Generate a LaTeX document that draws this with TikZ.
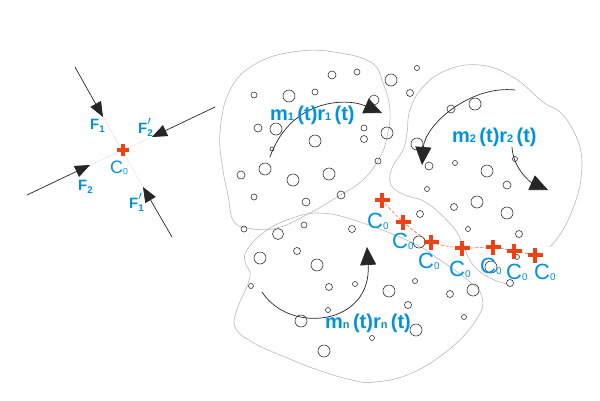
\documentclass[tikz,border=0pt]{standalone}
\usepackage{fontspec}
\setmainfont{Liberation Sans}
\usetikzlibrary{arrows.meta}
\definecolor{cblue}{RGB}{0,146,223}
\definecolor{cred}{RGB}{238,66,20}
\newcommand\sbs[3]{\raisebox{#1}{\scalebox{#2}{#3}}}
\newcommand\prm{\rlap{\raisebox{0.5em}{\scalebox{0.9}{$\prime$}}}}
\tikzset{
 blob/.style={draw=black!28,line width=0.6pt},
 grain/.style={draw=black!80,line width=0.6pt},
 flow/.style={draw=black!85,line width=0.7pt,-{Triangle[length=18pt,width=16pt]}},
 force/.style={draw=black!85,line width=0.7pt,-{Triangle[length=15pt,width=12pt]}},
 ghost/.style={draw=black!18,line width=0.5pt,dash pattern=on 1pt off 1pt},
 lbl/.style={anchor=base west,inner sep=0pt,text=cblue},
 pics/cplus/.style={code={\draw[cred,line cap=butt] (-#1,0)--(#1,0) (0,-#1)--(0,#1);}}
}
\begin{document}
\begin{tikzpicture}[x=1pt,y=-1pt,line join=round,line cap=round]
 \useasboundingbox (0,0) rectangle (600,400);
 % regions
 \draw[blob] plot[smooth cycle,tension=0.7] coordinates {(300,51) (340,53) (372,63) (383,83) (390,110) (387,137) (380,157) (363,180) (337,197) (310,213) (277,228) (247,228) (233,220) (228,195) (223,170) (220,133) (230,90) (257,63)};
 \draw[blob] plot[smooth,tension=0.7] coordinates {(507,284) (490,278) (473,265) (463,245) (453,227) (427,203) (405,195) (391,185) (392,168) (403,150) (407,133) (410,110) (423,87) (447,70) (480,65) (513,77) (543,102) (560,112) (573,130) (581,152) (581,178) (575,203) (563,230) (550,247)};
 \draw[blob] plot[smooth cycle,tension=0.7] coordinates {(247,250) (263,233) (287,220) (320,213) (360,222) (413,243) (440,260) (470,282) (482,297) (478,317) (452,347) (412,373) (375,382) (352,380) (318,370) (285,357) (252,342) (235,327) (238,307) (250,277) (245,262)};
 % grains
 \foreach \x/\y/\r in {332/75/4, 357/72/3, 391/80/6, 254/95/3, 289/96/6, 315/92/3, 374/100/5,
   258/128/4, 276/129/6, 315/141/6, 364/128/3, 364/139/3.5, 387/133/6, 272/149/2, 378/161/3,
   265/169/6, 241/175/4, 329/174/6, 293/180/6, 254/197/3, 306/202/4, 341/195/4, 244/229/3,
   304/225/3, 278/234/5.5, 352/229/3.5,
   417/68/2.5, 410/93/3.5, 475/104/6, 451/109/4, 417/144/6, 429/166/4, 455/163/2.5, 487/171/6,
   515/159/2.5, 507/185/4, 477/202/6, 454/207/3.5, 427/189/2.5, 507/213/6, 420/214/3.5,
   468/229/2.5, 519/234/3.5, 419/242/6, 491/267/6, 517/257/2.5, 510/283/3.5, 473/290/6,
   415/281/2.5, 450/294/3.5,
   297/251/3.5, 260/258/6, 317/265/6, 251/286/2.5, 329/287/3.5, 355/284/2.5, 389/291/6,
   328/310/2.5, 408/305/3.5, 464/317/2.5, 301/321/6, 416/330/6, 372/338/2.5, 324/351/6}
   \draw[grain] (\x,\y) circle(\r pt);
 % rotations
 \coordinate (p1) at (270,157); \coordinate (q1) at (382,113);
 \coordinate (p2) at (515,90);  \coordinate (q2) at (422,165);
 \coordinate (p3) at (512,147); \coordinate (q3) at (548,190);
 \coordinate (p4) at (262,292); \coordinate (q4) at (367,247);
 \draw[flow] (p1) .. controls (290,100) and (345,97) .. (q1);
 \draw[flow] (p2) .. controls (470,85) and (425,125) .. (q2);
 \draw[flow] (p3) .. controls (513,168) and (530,182) .. (q3);
 \draw[flow] (p4) .. controls (290,335) and (372,325) .. (q4);
 \node[lbl,font=\bfseries\fontsize{20}{20}\selectfont] (m1) at (270,120) {m\sbs{0pt}{0.55}{1}\,(t)r\sbs{0pt}{0.55}{1}\,(t)};
 \node[lbl,font=\bfseries\fontsize{20}{20}\selectfont] (m2) at (452,142) {m\sbs{0pt}{0.55}{2}\,(t)r\sbs{0pt}{0.55}{2}\,(t)};
 \node[lbl,font=\bfseries\fontsize{20}{20}\selectfont] (mn) at (325,328) {m\sbs{0pt}{0.55}{n}\,(t)r\sbs{0pt}{0.55}{n}\,(t)};
 % path of the centre
 \foreach \x/\y/\lx/\ly [count=\i] in {382/200/367/228, 403/222/392/248, 431/242/418/268,
   462/248/449/276, 493/247/480/273, 514/251/506/279, 535/255/534/279}{
   \coordinate (c\i) at (\x,\y);
   \node[lbl,font=\fontsize{22}{22}\selectfont] (cl\i) at (\lx,\ly) {C\sbs{-0.08em}{0.45}{0}};}
 \draw[cred!75,line width=0.6pt,dash pattern=on 3pt off 2pt] plot[smooth] coordinates {(c1) (c2) (c3) (c4) (c5) (c6) (c7)};
 \foreach \i in {1,...,7} \pic[line width=4.2pt] at (c\i) {cplus=7.5};
 % forces at the centre
 \coordinate (o) at (123,150);
 \foreach \n/\sx/\sy/\ex/\ey in {a/75/67/103/117, b/215/107/152/137, c/27/195/90/165, d/172/237/143/187}{
   \coordinate (\n0) at (\sx,\sy); \coordinate (\n1) at (\ex,\ey);}
 \draw[ghost] (a1)--(d1) (c1)--(b1);
 \foreach \n in {a,b,c,d} \draw[force] (\n0)--(\n1);
 \pic[line width=3.2pt] at (o) {cplus=6};
 \node[lbl,font=\fontsize{18}{18}\selectfont] (c0) at (110,173) {C\sbs{-0.08em}{0.48}{0}};
 \node[lbl,font=\bfseries\fontsize{15}{15}\selectfont] (fa) at (90,129) {F\sbs{-0.25em}{0.65}{1}};
 \node[lbl,font=\bfseries\fontsize{15}{15}\selectfont] (fb) at (138,133) {F\prm\sbs{-0.25em}{0.65}{2}};
 \node[lbl,font=\bfseries\fontsize{15}{15}\selectfont] (fc) at (78,190) {F\sbs{-0.25em}{0.65}{2}};
 \node[lbl,font=\bfseries\fontsize{15}{15}\selectfont] (fd) at (129,208) {F\prm\sbs{-0.25em}{0.65}{1}};
\end{tikzpicture}
\end{document}
